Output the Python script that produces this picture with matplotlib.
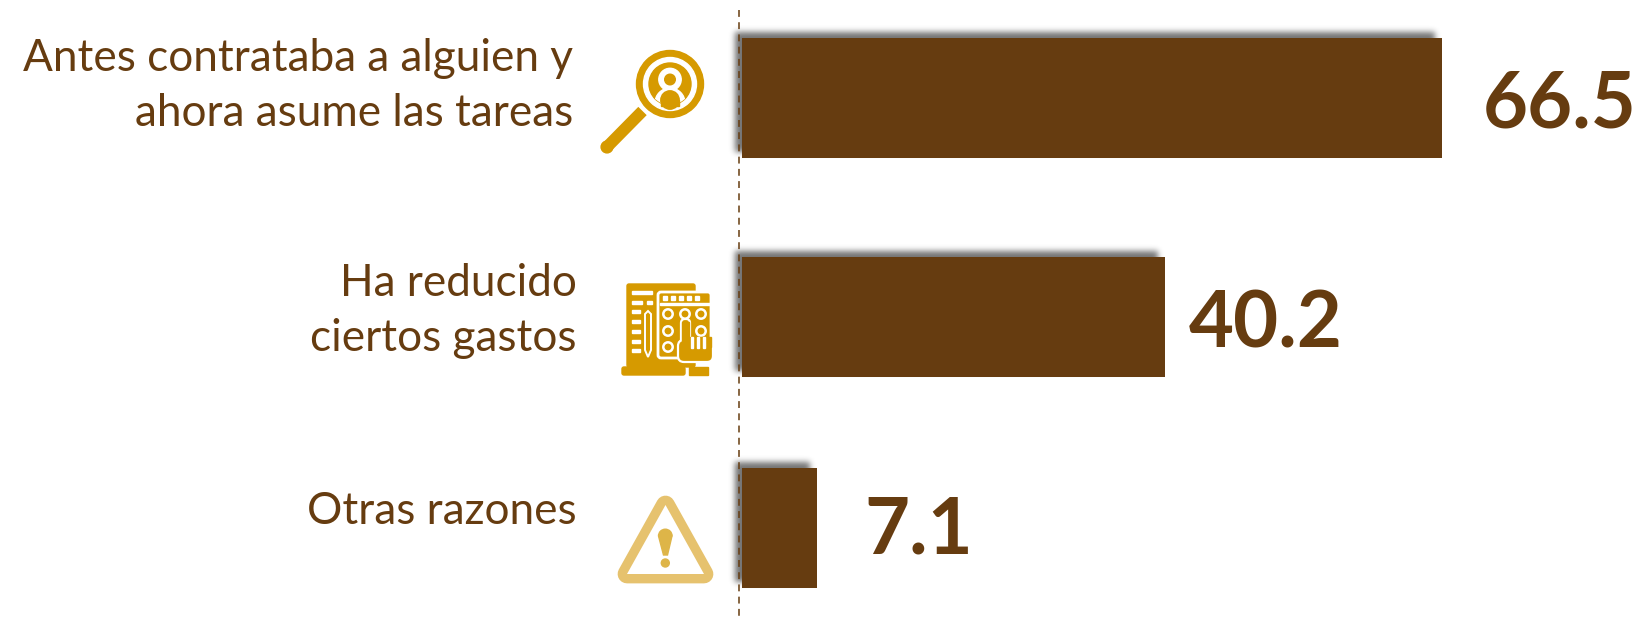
#!/usr/bin/env python3
import matplotlib

matplotlib.use("Agg")
import matplotlib.pyplot as plt
import numpy as np
from matplotlib.patches import Circle, FancyBboxPatch, Polygon, Rectangle, Wedge

WIDTH = 1640
HEIGHT = 618

categories = [
    "Antes contrataba a alguien y\nahora asume las tareas",
    "Ha reducido\nciertos gastos",
    "Otras razones",
]
values = [66.5, 40.2, 7.1]

BROWN = "#663c10"
GOLD = "#d69a00"
PALE_GOLD = "#e6c26e"
BAR_LEFT = 742
PX_PER_UNIT = 10.52
BAR_ROWS = [98, 317, 528]
BAR_HEIGHT = 120
LABEL_GAPS = [41, 24, 48]
LABEL_DROPS = [29, 30, 26]
CATEGORY_RIGHT = [573, 577, 577]
CATEGORY_Y = [86, 311, 511]

plt.rcParams["font.family"] = ["Lato", "DejaVu Sans"]


def gaussian_blur(img, sigma):
    radius = int(sigma * 4)
    x = np.arange(-radius, radius + 1)
    kernel = np.exp(-(x**2) / (2 * sigma**2))
    kernel /= kernel.sum()
    img = np.apply_along_axis(lambda r: np.convolve(r, kernel, mode="same"), 0, img)
    return np.apply_along_axis(lambda r: np.convolve(r, kernel, mode="same"), 1, img)


def draw_shadows(under, ax, rows, vals):
    # soft shadow thrown up and to the left of every bar
    mask = np.zeros((HEIGHT, WIDTH))
    for row, val in zip(rows, vals):
        box = ax.transData.transform([(0, row + BAR_HEIGHT / 2), (val, row - BAR_HEIGHT / 2)])
        x0, x1 = int(box[0][0]) - 6, int(box[1][0]) - 6
        y0, y1 = HEIGHT - int(box[1][1]) - 6, HEIGHT - int(box[0][1]) - 6
        mask[y0:y1, x0:x1] = 1.0
    mask = gaussian_blur(mask, 3.0)
    rgba = np.zeros((HEIGHT, WIDTH, 4))
    rgba[..., 3] = mask * 0.55
    under.imshow(rgba, extent=(0, WIDTH, HEIGHT, 0), aspect="auto", interpolation="nearest", zorder=1)
    under.set_xlim(0, WIDTH)
    under.set_ylim(HEIGHT, 0)


def draw_magnifier(a):
    a.plot([642.5, 607], [111, 147], color=GOLD, lw=8.5, solid_capstyle="butt", zorder=3)
    a.add_patch(Circle((607, 147), 5.9, color=GOLD, zorder=3))
    a.add_patch(Circle((670, 84), 33.5, color=GOLD, zorder=4))
    a.add_patch(Circle((670, 84), 26.5, color="white", zorder=5))
    disk = Circle((670, 84), 21, color=GOLD, zorder=6)
    a.add_patch(disk)
    a.add_patch(Circle((670, 79.5), 11.2, color="white", zorder=7))
    a.add_patch(Circle((670, 79.5), 5.3, color=GOLD, zorder=8))
    dome = Circle((670, 103), 15, color="white", zorder=7)
    a.add_patch(dome)
    dome.set_clip_path(disk)
    a.add_patch(Circle((670, 100), 9.2, color=GOLD, zorder=8))
    a.add_patch(Rectangle((660.8, 100), 18.4, 5.5, color=GOLD, zorder=8))


def draw_planner(a):
    a.add_patch(FancyBboxPatch((627, 284), 68, 83, boxstyle="round,pad=0,rounding_size=2", color=GOLD, zorder=3))
    a.add_patch(FancyBboxPatch((622, 367), 63, 8, boxstyle="round,pad=0,rounding_size=2", color=GOLD, zorder=3))
    a.add_patch(Rectangle((689, 367), 19, 8, color=GOLD, zorder=3))

    # text lines and pencil on the back sheet
    a.add_patch(Rectangle((632, 291), 20, 2.5, color="white", zorder=4))
    a.add_patch(Rectangle((632, 301), 10, 2.5, color="white", zorder=4))
    a.add_patch(Rectangle((647, 301), 5, 2.5, color="white", zorder=4))
    for y in [310, 320, 330, 340, 349]:
        a.add_patch(Rectangle((632, y), 8, 2.5, color="white", zorder=4))
    a.add_patch(Polygon([[645, 314], [648, 311], [651, 314], [651, 350], [648, 357], [645, 350]],
                        facecolor=GOLD, edgecolor="white", lw=1.4, zorder=4))

    # keypad sheet in front
    a.add_patch(FancyBboxPatch((658, 292), 53, 66, boxstyle="round,pad=0,rounding_size=3",
                               facecolor=GOLD, edgecolor="white", lw=2.0, zorder=5))
    for x in [663, 671, 679, 687, 695]:
        a.add_patch(Rectangle((x, 296), 4.5, 3.5, color="white", zorder=6))
    a.add_patch(Rectangle((660, 303), 52, 2, color="white", zorder=6))
    for cx, cy in [(668, 314), (685, 314), (701, 314), (668, 331), (701, 331), (668, 347)]:
        a.add_patch(Circle((cx, cy), 4.7, facecolor="none", edgecolor="white", lw=1.8, zorder=6))

    # pointing hand
    a.add_patch(FancyBboxPatch((681, 319), 9, 30, boxstyle="round,pad=0,rounding_size=4",
                               facecolor=GOLD, edgecolor="white", lw=1.6, zorder=7))
    a.add_patch(FancyBboxPatch((678, 340), 35, 22, boxstyle="round,pad=0,rounding_size=6",
                               facecolor=GOLD, edgecolor="white", lw=1.6, zorder=7))
    a.add_patch(Rectangle((690, 337), 21, 10, color=GOLD, zorder=8))
    for x in [691, 697, 703]:
        a.add_patch(Rectangle((x, 337), 1.8, 11, color="white", zorder=9))
    a.add_patch(Rectangle((682, 322), 7.5, 26, color=GOLD, zorder=9))


def draw_warning(a):
    corners = [[665.5, 505], [627, 574], [704, 574]]
    a.add_patch(Polygon(corners, closed=True, facecolor=PALE_GOLD, edgecolor=PALE_GOLD, lw=13.5,
                        joinstyle="round", zorder=3))
    a.add_patch(Polygon(corners, closed=True, facecolor="white", edgecolor="none", zorder=4))
    a.add_patch(Polygon([[658.5, 536], [672, 536], [667.5, 555], [663.5, 555]], color="#deb548", zorder=5))
    a.add_patch(Wedge((665.3, 536), 6.8, 180, 360, color="#deb548", zorder=5))
    a.add_patch(Circle((665.3, 563), 4, color="#deb548", zorder=5))


fig = plt.figure(figsize=(WIDTH / 100, HEIGHT / 100), dpi=100, facecolor="white")

# full-figure pixel layer for shadows, icons and category text
under = fig.add_axes([0, 0, 1, 1], zorder=0)
under.set_xlim(0, WIDTH)
under.set_ylim(HEIGHT, 0)
under.axis("off")

ax = fig.add_axes([BAR_LEFT / WIDTH, 0, 1 - BAR_LEFT / WIDTH, 1], zorder=1)
ax.set_xlim(0, (WIDTH - BAR_LEFT) / PX_PER_UNIT)
ax.set_ylim(HEIGHT, 0)
ax.axis("off")

draw_shadows(under, ax, BAR_ROWS, values)
ax.barh(BAR_ROWS, values, height=BAR_HEIGHT, color=BROWN, linewidth=0)

under.plot([739, 739], [10, 618], color=BROWN, lw=1.1, linestyle=(0, (4.5, 3.5)), zorder=2)

for row, val, gap, drop in zip(BAR_ROWS, values, LABEL_GAPS, LABEL_DROPS):
    ax.annotate(f"{val:.1f}", (val, row), xytext=(gap, -drop), textcoords="offset pixels",
                ha="left", va="baseline", fontsize=56, fontweight="bold", color=BROWN,
                annotation_clip=False)

for label, right, y in zip(categories, CATEGORY_RIGHT, CATEGORY_Y):
    under.text(right, y, label, ha="right", va="center", fontsize=31.8, color=BROWN, linespacing=1.43)

draw_magnifier(under)
draw_planner(under)
draw_warning(under)

fig.savefig("out.png", dpi=100)
